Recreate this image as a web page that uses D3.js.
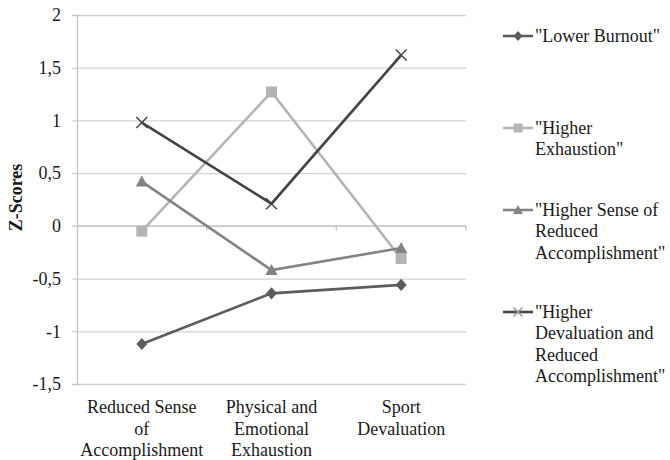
<!DOCTYPE html>
<html>
<head>
<meta charset="utf-8">
<script src="https://cdn.jsdelivr.net/npm/d3@7"></script>
<style>
  body { margin: 0; background: #fff; }
</style>
</head>
<body>
<div id="chart"></div>
<script>
// Data
const categories = ["Reduced Sense of Accomplishment", "Physical and Emotional Exhaustion", "Sport Devaluation"];
const categoryLines = [["Reduced Sense", "of", "Accomplishment"], ["Physical and", "Emotional", "Exhaustion"], ["Sport", "Devaluation"]];
const seriesNames = ['"Lower Burnout"', '"Higher Exhaustion"', '"Higher Sense of Reduced Accomplishment"', '"Higher Devaluation and Reduced Accomplishment"'];
const legendLines = [['"Lower Burnout"'], ['"Higher', 'Exhaustion"'], ['"Higher Sense of', 'Reduced', 'Accomplishment"'], ['"Higher', 'Devaluation and', 'Reduced', 'Accomplishment"']];
const lowerBurnout = [-1.12, -0.64, -0.56];
const higherExhaustion = [-0.05, 1.27, -0.31];
const higherSense = [0.42, -0.42, -0.21];
const higherDevaluation = [0.98, 0.21, 1.62];
const yTicks = [-1.5, -1, -0.5, 0, 0.5, 1, 1.5, 2];

const FONT = "'Liberation Serif'";
const FS = '18px';

const series = [
  {name: seriesNames[0], values: lowerBurnout, color: '#5c5c5c', marker: 'diamond'},
  {name: seriesNames[1], values: higherExhaustion, color: '#b4b4b4', marker: 'square'},
  {name: seriesNames[2], values: higherSense, color: '#838383', marker: 'triangle'},
  {name: seriesNames[3], values: higherDevaluation, color: '#444444', marker: 'cross'},
];

const width = 670, height = 460;
const margin = {top: 15, right: 204, bottom: 76, left: 77};
const plotW = width - margin.left - margin.right;
const plotH = height - margin.top - margin.bottom;

const svg = d3.select('#chart').append('svg')
  .attr('width', width)
  .attr('height', height);

const g = svg.append('g')
  .attr('transform', `translate(${margin.left},${margin.top})`);

const x = d3.scaleBand().domain(categories).range([0, plotW]);
const y = d3.scaleLinear().domain([-1.5, 2]).range([plotH, 0]);
const fmt = d => String(d).replace('.', ',');

// Horizontal grid
g.append('g')
  .call(d3.axisLeft(y).tickValues(yTicks).tickSize(-plotW).tickFormat(''))
  .call(s => s.select('.domain').remove())
  .call(s => s.selectAll('line').attr('stroke', '#d4d4d4').attr('stroke-width', 1.3));

// Left axis
const yAxis = g.append('g')
  .call(d3.axisLeft(y).tickValues(yTicks).tickSize(5).tickPadding(11).tickFormat(fmt));
yAxis.select('.domain').attr('stroke', '#c4c4c4').attr('stroke-width', 1.3);
yAxis.selectAll('line').attr('stroke', '#c4c4c4');
yAxis.selectAll('text')
  .style('font-family', FONT).style('font-size', FS)
  .attr('fill', '#1a1a1a');

// Category axis at zero
const xg = g.append('g').attr('transform', `translate(0,${y(0)})`);
xg.append('line').attr('x1', 0).attr('x2', plotW).attr('stroke', '#c4c4c4').attr('stroke-width', 1.3);
xg.selectAll('.tick').data(categories).join('line')
  .attr('class', 'tick')
  .attr('x1', d => x(d) + x.bandwidth()).attr('x2', d => x(d) + x.bandwidth())
  .attr('y1', 0).attr('y2', 5)
  .attr('stroke', '#c4c4c4').attr('stroke-width', 1.3);

// Category labels
const lab = g.append('g').selectAll('text').data(categories).join('text')
  .attr('x', d => x(d) + x.bandwidth() / 2)
  .attr('y', plotH + 29)
  .attr('text-anchor', 'middle')
  .style('font-family', FONT)
  .style('font-size', FS)
  .attr('fill', '#1a1a1a');
lab.selectAll('tspan').data((d, i) => categoryLines[i]).join('tspan')
  .attr('x', function() { return this.parentNode.getAttribute('x'); })
  .attr('dy', (d, i) => i === 0 ? 0 : 21.5)
  .text(d => d);

// Y axis title
svg.append('text')
  .attr('transform', `translate(22,${margin.top + plotH / 2 - 2}) rotate(-90)`)
  .attr('text-anchor', 'middle')
  .style('font-family', FONT)
  .style('font-size', FS)
  .style('font-weight', 'bold')
  .attr('fill', '#1a1a1a')
  .text('Z-Scores');

// Markers (Excel-like shapes)
function drawMarker(sel, type, color, r) {
  let d;
  if (type === 'diamond') d = `M0,${-r * 1.1}L${r},0L0,${r * 1.1}L${-r},0Z`;
  else if (type === 'square') d = `M${-r},${-r}H${r}V${r}H${-r}Z`;
  else if (type === 'triangle') d = `M0,${-r * 1.1}L${r * 1.1},${r * 0.9}H${-r * 1.1}Z`;
  if (type === 'cross') {
    sel.append('path')
      .attr('d', `M${-r},${-r}L${r},${r}M${-r},${r}L${r},${-r}`)
      .attr('stroke', color).attr('stroke-width', 1.5).attr('fill', 'none');
  } else {
    sel.append('path').attr('d', d).attr('fill', color);
  }
}

const line = d3.line()
  .x((d, i) => x(categories[i]) + x.bandwidth() / 2)
  .y(d => y(d));

series.forEach(s => {
  g.append('path')
    .datum(s.values)
    .attr('d', line)
    .attr('fill', 'none')
    .attr('stroke', s.color)
    .attr('stroke-width', 2.6);
  s.values.forEach((v, i) => {
    const m = g.append('g')
      .attr('transform', `translate(${x(categories[i]) + x.bandwidth() / 2},${y(v)})`);
    drawMarker(m, s.marker, s.color, 5.5);
  });
});

// Legend
const legendY = [36, 128, 210, 312];
const legend = svg.append('g').attr('transform', 'translate(503,0)');
series.forEach((s, i) => {
  const lg = legend.append('g').attr('transform', `translate(0,${legendY[i]})`);
  lg.append('line').attr('x1', 0).attr('x2', 30)
    .attr('stroke', s.color).attr('stroke-width', 2.6);
  const m = lg.append('g').attr('transform', 'translate(15,0)');
  drawMarker(m, s.marker, s.marker === 'cross' ? '#9a9a9a' : s.color, 4.5);
  const t = lg.append('text').attr('x', 32).attr('y', 6)
    .style('font-family', FONT).style('font-size', FS).attr('fill', '#1a1a1a');
  t.selectAll('tspan').data(legendLines[i]).join('tspan')
    .attr('x', 32)
    .attr('dy', (d, j) => j === 0 ? 0 : 21.3)
    .text(d => d);
});
</script>
</body>
</html>
